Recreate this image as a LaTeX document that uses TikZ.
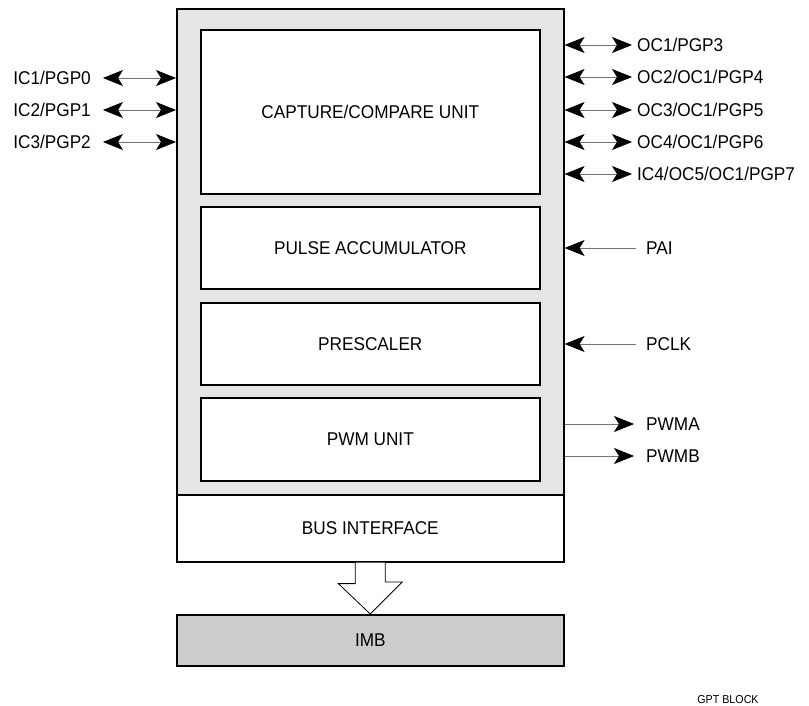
\documentclass[tikz,border=0pt]{standalone}
\usepackage{fontspec}
\setmainfont{Liberation Sans}[FakeStretch=0.93]
\usetikzlibrary{arrows.meta,positioning}

\tikzset{
  unitbox/.style={draw, line width=1.6pt, fill=white, anchor=north west,
    minimum width=339pt, font=\fontsize{18.5}{21}\selectfont},
  pinlabel/.style={inner sep=0pt, font=\fontsize{18.5}{21}\selectfont},
  sigline/.style={draw=black!55, line width=0.8pt,
    >={Stealth[length=20pt, width=16pt, inset=5pt, color=black]}},
}

\begin{document}
\begin{tikzpicture}[x=1pt, y=-1pt]
  \useasboundingbox (0,0) rectangle (809,706);

  % Outer block and bus
  \node[draw, line width=1.6pt, fill=black!10, anchor=north west,
        minimum width=387pt, minimum height=486pt] (gpt) at (176,8) {};
  \node[unitbox, minimum width=387pt, minimum height=67pt] (bus) at (176,494) {BUS INTERFACE};
  \node[unitbox, fill=black!20, minimum width=387pt, minimum height=51pt] (imb) at (176,614) {IMB};

  % Units
  \node[unitbox, minimum height=164pt] (capture) at (200,29) {CAPTURE/COMPARE UNIT};
  \node[unitbox, minimum height=82pt] (pulse) at (200,206) {PULSE ACCUMULATOR};
  \node[unitbox, minimum height=82pt] (prescaler) at (200,302) {PRESCALER};
  \node[unitbox, minimum height=83pt] (pwm) at (200,397) {PWM UNIT};

  % Hollow bus arrow
  \draw[line width=0.8pt, fill=white] ([xshift=-15pt]bus.south) -- ++(0,21) -- ++(-17,0)
    -- (imb.north) -- ++(32,-32) -- ++(-17,0) -- ([xshift=15pt]bus.south);

  % Left pins
  \foreach \name/\txt/\y in {icA/IC1\slash PGP0/78, icB/IC2\slash PGP1/110, icC/IC3\slash PGP2/142} {
    \node[pinlabel, anchor=east] (\name) at (91,\y) {\txt};
    \draw[sigline, <->] ([xshift=12pt]\name.east) -- (\name -| gpt.west);
  }

  % Right pins
  \foreach \name/\txt/\y in {ocA/OC1\slash PGP3/45, ocB/OC2\slash OC1\slash PGP4/77,
      ocC/OC3\slash OC1\slash PGP5/110, ocD/OC4\slash OC1\slash PGP6/142,
      ocE/IC4\slash OC5\slash OC1\slash PGP7/174} {
    \node[pinlabel, anchor=west] (\name) at (637,\y) {\txt};
    \draw[sigline, <->] (\name -| gpt.east) -- ([xshift=-5pt]\name.west);
  }

  % Inputs and outputs
  \node[pinlabel, anchor=west] (pai) at (646,248) {PAI};
  \node[pinlabel, anchor=west] (pclk) at (646,344) {PCLK};
  \node[pinlabel, anchor=west] (pwma) at (646,424) {PWMA};
  \node[pinlabel, anchor=west] (pwmb) at (646,456) {PWMB};
  \draw[sigline, ->] ([xshift=-10pt]pai.west) -- (pai -| gpt.east);
  \draw[sigline, ->] ([xshift=-10pt]pclk.west) -- (pclk -| gpt.east);
  \draw[sigline, ->] (pwma -| gpt.east) -- ([xshift=-12pt]pwma.west);
  \draw[sigline, ->] (pwmb -| gpt.east) -- ([xshift=-12pt]pwmb.west);

  % Caption
  \node[font=\fontsize{11.5}{13}\selectfont] (caption) at (728,700) {GPT BLOCK};
\end{tikzpicture}
\end{document}
